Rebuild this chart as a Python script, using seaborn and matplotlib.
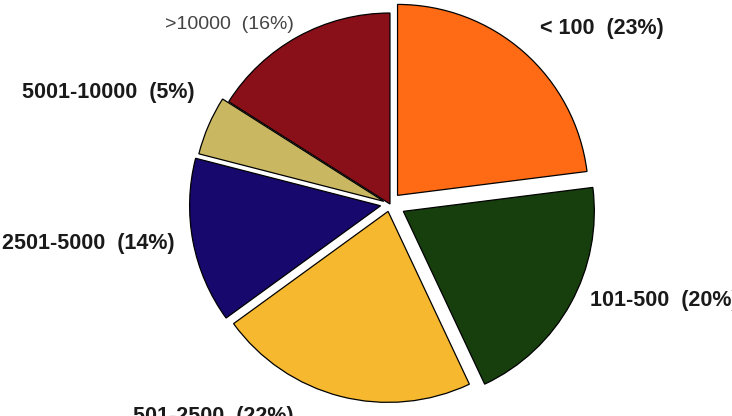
import matplotlib
matplotlib.use("Agg")
import matplotlib.pyplot as plt
import seaborn as sns

sns.set_theme(style="white")
plt.rcParams['font.family'] = ['Liberation Sans', 'DejaVu Sans']

# data
categories = ["< 100", "101-500", "501-2500", "2501-5000", "5001-10000", ">10000"]
shares = [23, 20, 22, 14, 5, 16]
colors = ["#FF6A14", "#173F0E", "#F5B82E", "#17086E", "#C9B762", "#890F18"]
explode = [0.06, 0.08, 0.04, 0.05, 0.035, 0.0]

# label placement (data units, radius = 1)
label_x = [0.785, 1.047, -1.346, -2.031, -1.927, -1.178]
label_y = [0.921, -0.503, -1.115, -0.209, 0.586, 0.942]
label_bold = [True, True, True, True, True, False]

fig = plt.figure(figsize=(7.32, 4.16), dpi=100)
ax = fig.add_axes([0, 0, 1, 1])

ax.pie(shares, colors=colors, explode=explode, startangle=90,
       counterclock=False, radius=1,
       wedgeprops=dict(edgecolor="black", linewidth=0.9))

for cat, s, x, y, b in zip(categories, shares, label_x, label_y, label_bold):
    ax.text(x, y, f"{cat}  ({s}%)", ha="left", va="center",
            fontsize=15.5 if b else 14,
            fontweight="bold" if b else "normal",
            color="#1a1a1a" if b else "#444444")

ax.set_xlim(-2.042, 1.791)
ax.set_ylim(-1.110, 1.068)
ax.set_aspect("equal")
ax.axis("off")

fig.savefig("out.png", dpi=100)
